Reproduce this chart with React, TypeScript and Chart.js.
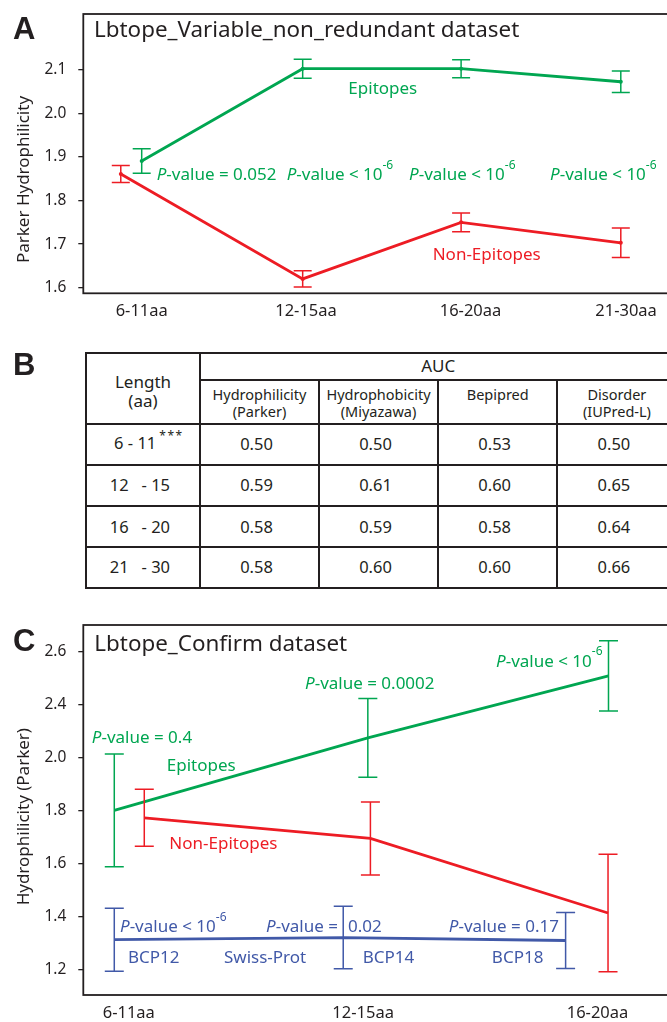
import React, { useEffect, useRef } from 'react';
import { Chart, registerables } from 'chart.js';

Chart.register(...registerables);

const INK = '#231F20';
const GREEN = '#00A651';
const RED = '#ED1C24';
const BLUE = '#4159A8';
const FONT = "'Noto Sans', 'Open Sans', sans-serif";
const LETTER_FONT = "'Liberation Sans', Arial, sans-serif";

// ---------------- Panel A data ----------------
const catA = ['6-11aa', '12-15aa', '16-20aa', '21-30aa'];
const catPosA = [0, 1.029, 2.059, 3.033];
const yTicksA = [1.6, 1.7, 1.8, 1.9, 2.0, 2.1];
const epiXA = [0, 1.008, 2, 3];
const epiA = [1.891, 2.103, 2.103, 2.073];
const epiErrA = [0.028, 0.022, 0.0205, 0.0245];
const nonXA = [-0.131, 1.008, 2, 3];
const nonA = [1.861, 1.62, 1.75, 1.703];
const nonErrA = [0.0195, 0.0187, 0.0215, 0.034];

// ---------------- Panel B data ----------------
const lengthLabels = [' 6 - 11', '12   - 15', '16   - 20', '21   - 30'];
const lengthMarks = ['***', '', '', ''];
const methodNames = [
  ['Hydrophilicity', '(Parker)'],
  ['Hydrophobicity', '(Miyazawa)'],
  ['Bepipred', ''],
  ['Disorder', '(IUPred-L)'],
];
const aucParker = [0.5, 0.59, 0.58, 0.58];
const aucMiyazawa = [0.5, 0.61, 0.59, 0.6];
const aucBepipred = [0.53, 0.6, 0.58, 0.6];
const aucDisorder = [0.5, 0.65, 0.64, 0.66];

// ---------------- Panel C data ----------------
const catC = ['6-11aa', '12-15aa', '16-20aa'];
const catPosC = [0, 1, 2];
const yTickPosC = [1.2, 1.4, 1.6, 1.8, 2.0, 2.2, 2.4];
const yTickLabelsC = ['1.2', '1.4', '1.6', '1.8', '2.0', '2.4', '2.6'];
const epiXC = [-0.062, 1.02, 2.047];
const epiC = [1.801, 2.075, 2.31];
const epiErrC = [0.213, 0.149, 0.133];
const nonXC = [0.066, 1.031, 2.045];
const nonC = [1.773, 1.695, 1.413];
const nonErrC = [0.108, 0.138, 0.222];
const swissXC = [-0.062, 0.915, 1.864];
const swissC = [1.312, 1.32, 1.309];
const swissErrC = [0.119, 0.118, 0.1055];

type Part = { t: string; s?: 'i' | 'sup' };
type Note = { parts: Part[]; x: number; y: number; color: string };

const pv = (rest: string, sup?: string): Part[] => {
  const p: Part[] = [{ t: 'P', s: 'i' }, { t: '-value ' + rest }];
  if (sup) p.push({ t: sup, s: 'sup' });
  return p;
};
const txt = (t: string): Part[] => [{ t }];

const notesA: Note[] = [
  { parts: pv('= 0.052'), x: 0.094, y: 1.861, color: GREEN },
  { parts: pv('< 10', '-6'), x: 0.908, y: 1.861, color: GREEN },
  { parts: pv('< 10', '-6'), x: 1.674, y: 1.861, color: GREEN },
  { parts: pv('< 10', '-6'), x: 2.557, y: 1.861, color: GREEN },
  { parts: txt('Epitopes'), x: 1.294, y: 2.058, color: GREEN },
  { parts: txt('Non-Epitopes'), x: 1.822, y: 1.677, color: RED },
];

const notesC: Note[] = [
  { parts: pv('= 0.4'), x: -0.158, y: 2.0775, color: GREEN },
  { parts: txt('Epitopes'), x: 0.162, y: 1.9727, color: GREEN },
  { parts: pv('= 0.0002'), x: 0.752, y: 2.2817, color: GREEN },
  { parts: pv('< 10', '-6'), x: 1.567, y: 2.3672, color: GREEN },
  { parts: txt('Non-Epitopes'), x: 0.173, y: 1.6766, color: RED },
  { parts: pv('< 10', '-6'), x: -0.0376, y: 1.3638, color: BLUE },
  { parts: pv('='), x: 0.5856, y: 1.3649, color: BLUE },
  { parts: txt('0.02'), x: 0.9356, y: 1.3649, color: BLUE },
  { parts: pv('= 0.17'), x: 1.3658, y: 1.3649, color: BLUE },
  { parts: txt('BCP12'), x: -0.0034, y: 1.2477, color: BLUE },
  { parts: txt('Swiss-Prot'), x: 0.4061, y: 1.2477, color: BLUE },
  { parts: txt('BCP14'), x: 0.9983, y: 1.2477, color: BLUE },
  { parts: txt('BCP18'), x: 1.5493, y: 1.2477, color: BLUE },
];

function drawRich(ctx: CanvasRenderingContext2D, parts: Part[], x: number, capMid: number, size: number, color: string) {
  let cx = x;
  const base = capMid + 0.357 * size;
  const supSize = 12;
  const supBase = capMid - 9.5 + 0.357 * supSize;
  ctx.fillStyle = color;
  ctx.textAlign = 'left';
  ctx.textBaseline = 'alphabetic';
  for (const p of parts) {
    const fs = p.s === 'sup' ? supSize : size;
    ctx.font = `${p.s === 'i' ? 'italic ' : ''}${fs}px ${FONT}`;
    ctx.fillText(p.t, cx, p.s === 'sup' ? supBase : base);
    cx += ctx.measureText(p.t).width;
  }
}

type DecorCfg = {
  title: string;
  titleX: number;
  titleBase: number;
  yTitle: string;
  yTitleBase: number;
  yTitleMid: number;
  notes: Note[];
  errs: number[][];
  cap: number;
};

function makeDecor(cfg: DecorCfg) {
  return {
    id: 'decor',
    beforeDatasetsDraw(chart: any) {
      const { ctx, chartArea: a } = chart;
      ctx.save();
      ctx.strokeStyle = INK;
      ctx.lineWidth = 1.8;
      ctx.strokeRect(a.left, a.top, a.right - a.left, a.bottom - a.top);
      ctx.restore();
    },
    afterDatasetsDraw(chart: any) {
      const { ctx } = chart;
      const ys = chart.scales.y;
      chart.data.datasets.forEach((ds: any, i: number) => {
        const meta = chart.getDatasetMeta(i);
        const errs = cfg.errs[i];
        ctx.save();
        ctx.strokeStyle = ds.borderColor;
        ctx.lineWidth = 1.5;
        meta.data.forEach((pt: any, j: number) => {
          const v = ds.data[j].y;
          const e = errs[j];
          const x = pt.x;
          const y1 = ys.getPixelForValue(v + e);
          const y2 = ys.getPixelForValue(v - e);
          ctx.beginPath();
          ctx.moveTo(x, y1);
          ctx.lineTo(x, y2);
          ctx.moveTo(x - cfg.cap, y1);
          ctx.lineTo(x + cfg.cap, y1);
          ctx.moveTo(x - cfg.cap, y2);
          ctx.lineTo(x + cfg.cap, y2);
          ctx.stroke();
        });
        ctx.restore();
      });
    },
    afterDraw(chart: any) {
      const { ctx } = chart;
      const xs = chart.scales.x;
      const ys = chart.scales.y;
      ctx.save();
      // panel title
      ctx.fillStyle = INK;
      ctx.font = `22.4px ${FONT}`;
      ctx.textAlign = 'left';
      ctx.textBaseline = 'alphabetic';
      ctx.fillText(cfg.title, cfg.titleX, cfg.titleBase);
      // y axis title
      ctx.save();
      ctx.translate(cfg.yTitleBase, cfg.yTitleMid);
      ctx.rotate(-Math.PI / 2);
      ctx.font = `17px ${FONT}`;
      ctx.textAlign = 'center';
      ctx.fillText(cfg.yTitle, 0, 0);
      ctx.restore();
      // annotations
      for (const n of cfg.notes) {
        drawRich(ctx, n.parts, xs.getPixelForValue(n.x), ys.getPixelForValue(n.y), 17, n.color);
      }
      ctx.restore();
    },
  };
}

function lineDs(label: string, xs: number[], ys: number[], color: string, pointRadius: number) {
  return {
    label,
    data: xs.map((x, i) => ({ x, y: ys[i] })),
    showLine: true,
    borderColor: color,
    backgroundColor: color,
    borderWidth: 2.8,
    pointRadius,
    pointBorderWidth: 0,
    pointBackgroundColor: color,
    tension: 0,
  };
}

function axisX(min: number, max: number, pos: number[], labels: string[], height: number) {
  return {
    type: 'linear',
    position: 'bottom',
    min,
    max,
    grid: { display: false, drawTicks: false },
    border: { display: false },
    afterBuildTicks: (s: any) => {
      s.ticks = pos.map((v) => ({ value: v }));
    },
    afterFit: (s: any) => {
      s.height = height;
      s.paddingLeft = 0;
      s.paddingRight = 0;
    },
    ticks: {
      callback: (_v: any, i: number) => labels[i],
      font: { family: FONT, size: 16.5 },
      color: INK,
      padding: 8,
      maxRotation: 0,
      autoSkip: false,
    },
  };
}

function axisY(min: number, max: number, pos: number[], labels: string[]) {
  return {
    type: 'linear',
    position: 'left',
    min,
    max,
    grid: { drawOnChartArea: false, tickLength: 5, color: INK, lineWidth: 1.3 },
    border: { display: false },
    afterBuildTicks: (s: any) => {
      s.ticks = pos.map((v) => ({ value: v }));
    },
    afterFit: (s: any) => {
      s.width = 83.3;
      s.paddingTop = 0;
      s.paddingBottom = 0;
    },
    ticks: {
      callback: (_v: any, i: number) => labels[i],
      font: { family: FONT, size: 15.5 },
      color: INK,
      padding: 12,
    },
  };
}

function useChart(ref: React.RefObject<HTMLCanvasElement>, build: () => any) {
  useEffect(() => {
    if (!ref.current) return;
    const chart = new Chart(ref.current, build());
    return () => chart.destroy();
  }, []);
}

export default function App() {
  const refA = useRef<HTMLCanvasElement>(null);
  const refC = useRef<HTMLCanvasElement>(null);

  useChart(refA, () => ({
    type: 'scatter',
    data: {
      datasets: [
        lineDs('Epitopes', epiXA, epiA, GREEN, 2),
        lineDs('Non-Epitopes', nonXA, nonA, RED, 2),
      ],
    },
    options: {
      responsive: false,
      animation: false,
      layout: { padding: { top: 14, right: 18, left: 0, bottom: 0 } },
      plugins: { legend: { display: false }, tooltip: { enabled: false } },
      scales: {
        x: axisX(-0.3657, 3.3206, catPosA, catA, 36.7),
        y: axisY(1.587, 2.2287, yTicksA, yTicksA.map((v) => v.toFixed(1))),
      },
    },
    plugins: [
      makeDecor({
        title: 'Lbtope_Variable_non_redundant dataset',
        titleX: 94,
        titleBase: 37,
        yTitle: 'Parker Hydrophilicity',
        yTitleBase: 28.8,
        yTitleMid: 179.5,
        notes: notesA,
        errs: [epiErrA, nonErrA],
        cap: 9,
      }),
    ],
  }));

  useChart(refC, () => ({
    type: 'scatter',
    data: {
      datasets: [
        lineDs('Epitopes', epiXC, epiC, GREEN, 0),
        lineDs('Non-Epitopes', nonXC, nonC, RED, 0),
        lineDs('Swiss-Prot', swissXC, swissC, BLUE, 0),
      ],
    },
    options: {
      responsive: false,
      animation: false,
      layout: { padding: { top: 25, right: 18, left: 0, bottom: 0 } },
      plugins: { legend: { display: false }, tooltip: { enabled: false } },
      scales: {
        x: axisX(-0.1942, 2.318, catPosC, catC, 27),
        y: axisY(1.1028, 2.5022, yTickPosC, yTickLabelsC),
      },
    },
    plugins: [
      makeDecor({
        title: 'Lbtope_Confirm dataset',
        titleX: 94.3,
        titleBase: 51.2,
        yTitle: 'Hydrophilicity (Parker)',
        yTitleBase: 28.8,
        yTitleMid: 216.7,
        notes: notesC,
        errs: [epiErrC, nonErrC, swissErrC],
        cap: 9.5,
      }),
    ],
  }));

  const letter = (ch: string, top: number): React.ReactNode => (
    <div
      style={{
        position: 'absolute',
        left: 13,
        top,
        font: `bold 31px ${LETTER_FONT}`,
        lineHeight: '31px',
        color: INK,
      }}
    >
      {ch}
    </div>
  );

  const cell: React.CSSProperties = {
    border: `2px solid ${INK}`,
    padding: 0,
    textAlign: 'center',
    verticalAlign: 'middle',
  };
  const colW = [114, 119, 119, 119.4, 119];
  const aucCols = [aucParker, aucMiyazawa, aucBepipred, aucDisorder];
  const rowH = [41.3, 41, 41.3, 40.4];

  return (
    <div
      style={{
        position: 'absolute',
        left: 0,
        top: 0,
        width: 667,
        height: 1022,
        overflow: 'hidden',
        background: '#fff',
      }}
    >
      <canvas ref={refA} width={690} height={330} style={{ position: 'absolute', left: 0, top: 0, width: 690, height: 330 }} />
      <canvas ref={refC} width={690} height={422} style={{ position: 'absolute', left: 0, top: 600, width: 690, height: 422 }} />
      {letter('A', 12.7)}
      {letter('B', 349.3)}
      {letter('C', 624.5)}
      <table
        style={{
          position: 'absolute',
          left: 85,
          top: 351.7,
          borderCollapse: 'collapse',
          tableLayout: 'fixed',
          width: colW.reduce((a, b) => a + b, 0),
          fontFamily: FONT,
          color: INK,
        }}
      >
        <colgroup>
          {colW.map((w, i) => (
            <col key={i} style={{ width: w }} />
          ))}
        </colgroup>
        <tbody>
          <tr style={{ height: 27.6 }}>
            <td rowSpan={2} style={{ ...cell, verticalAlign: 'top', paddingTop: 18, fontSize: 17, lineHeight: '19.7px' }}>
              Length
              <br />
              (aa)
            </td>
            <td colSpan={4} style={{ ...cell, fontSize: 17, lineHeight: '20px' }}>
              AUC
            </td>
          </tr>
          <tr style={{ height: 43.4 }}>
            {methodNames.map((m, i) => (
              <td key={i} style={{ ...cell, verticalAlign: 'top', paddingTop: 4.5, fontSize: 14.5, lineHeight: '17.7px' }}>
                {m[0]}
                {m[1] ? (
                  <>
                    <br />
                    {m[1]}
                  </>
                ) : null}
              </td>
            ))}
          </tr>
          {lengthLabels.map((lab, r) => (
            <tr key={r} style={{ height: rowH[r] }}>
              <td style={{ ...cell, textAlign: 'left', paddingLeft: 22.8, fontSize: 16.5, whiteSpace: 'pre', lineHeight: '20px' }}>
                {lab}
                {lengthMarks[r] ? (
                  <span style={{ position: 'relative', top: -9, fontSize: 12, letterSpacing: 1.5, marginLeft: 3 }}>{lengthMarks[r]}</span>
                ) : null}
              </td>
              {aucCols.map((col, c) => (
                <td key={c} style={{ ...cell, fontSize: 16.5, paddingRight: 6, lineHeight: '20px' }}>
                  {col[r].toFixed(2)}
                </td>
              ))}
            </tr>
          ))}
        </tbody>
      </table>
    </div>
  );
}
